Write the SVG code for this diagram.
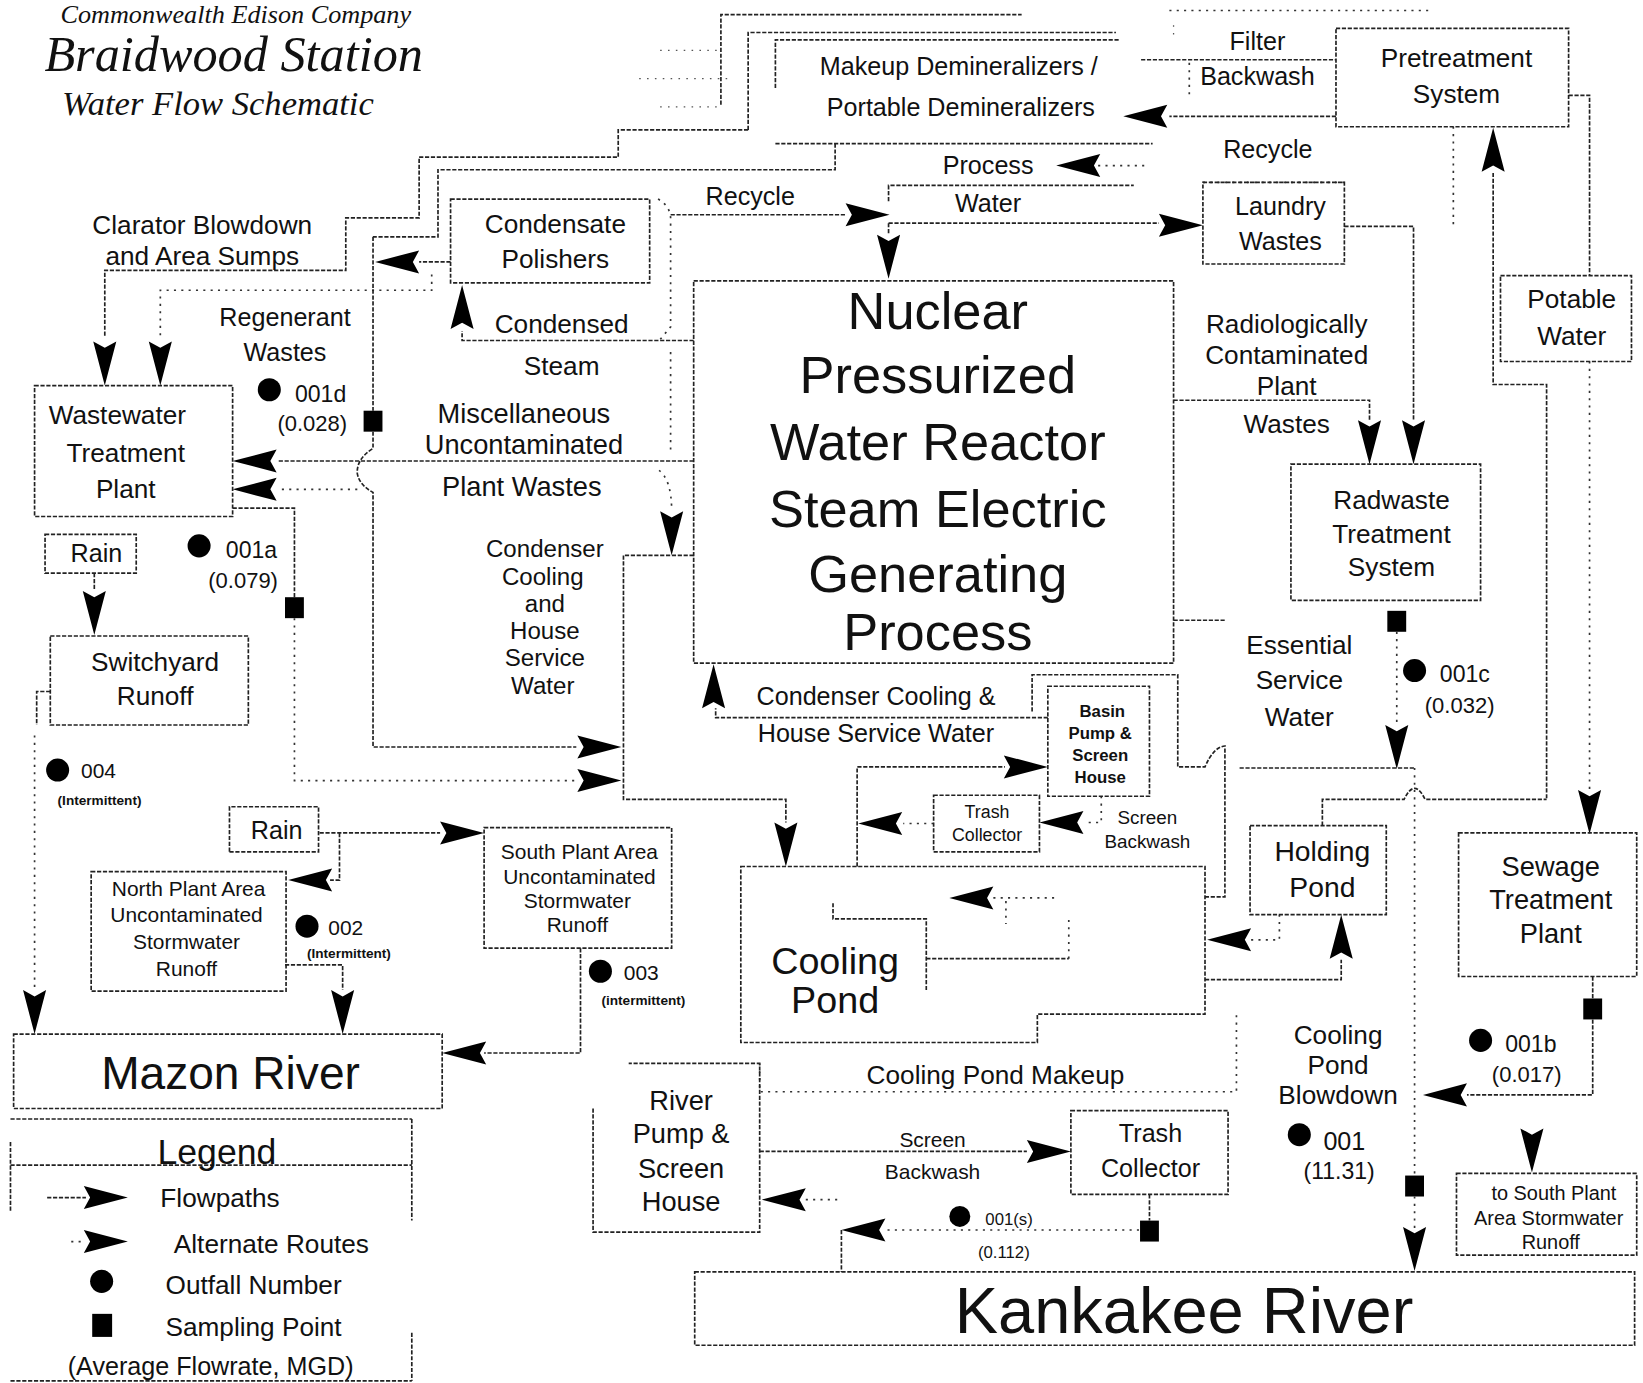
<svg xmlns="http://www.w3.org/2000/svg" width="1643" height="1383" viewBox="0 0 1643 1383">
<style>
.b{fill:none;stroke:#222;stroke-width:1.6;stroke-dasharray:4 1.6}
.c{fill:none;stroke:#222;stroke-width:1.6;stroke-dasharray:4 1.6}
.d{fill:none;stroke:#333;stroke-width:1.6;stroke-dasharray:2 5}
.f{fill:none;stroke:#555;stroke-width:1.2;stroke-dasharray:1.5 6}
.t{font-family:"Liberation Sans",Arial,sans-serif;fill:#111;text-anchor:middle}
.ti{font-family:"Liberation Serif","Times New Roman",serif;font-style:italic;fill:#111}
.k{fill:#000}
</style>
<defs>
<path id="ah" d="M0,0 L-42,-11 L-36,0 L-42,11 Z" fill="#000"/>
<rect id="sq" x="-9" y="-10" width="18" height="20" fill="#000"/>
</defs>
<rect width="1643" height="1383" fill="#fff"/>
<g transform="scale(1.04783,1.04773)">

<g id="title">
<text class="ti" x="225" y="22" font-size="25" text-anchor="middle">Commonwealth Edison Company</text>
<text class="ti" x="223" y="68" font-size="48" text-anchor="middle">Braidwood Station</text>
<text class="ti" x="208" y="110" font-size="33" text-anchor="middle">Water Flow Schematic</text>
</g>

<g id="faint">
<path class="f" d="M630,48 H690 M610,75 H700 M630,102 H690 M1120,24 V34"/>
</g>

<g id="connectors">
<path class="c" d="M688,100 V14 H975"/>
<path class="c" d="M714,124 V31 H1065"/>
<path class="d" d="M1116,10 H1365"/>
<path class="c" d="M714,124 H590 V150 H400 V208 H330 V258 H100 V322"/>
<use href="#ah" transform="translate(100,368) rotate(90)"/>
<path class="d" d="M412,262 V277 H153 V322"/>
<use href="#ah" transform="translate(153,368) rotate(90)"/>
<path class="c" d="M797,137 V162 H418 V226 H356"/>
<path class="c" d="M430,250 H400"/>
<use href="#ah" transform="translate(358,250) rotate(180)"/>
<path class="c" d="M356,226 V392"/>
<use href="#sq" transform="translate(356,402)"/>
<path class="c" d="M356,412 V428 Q340,438 341,452 Q343,463 356,470 V713 H550"/>
<use href="#ah" transform="translate(593,713)"/>
<path class="d" d="M341,467 H265"/>
<use href="#ah" transform="translate(222,467) rotate(180)"/>
<path class="c" d="M662,440 H265"/>
<use href="#ah" transform="translate(222,440) rotate(180)"/>
<path class="c" d="M222,485 H281 V570"/>
<use href="#sq" transform="translate(281,580)"/>
<path class="d" d="M281,590 V745 H550"/>
<use href="#ah" transform="translate(593,745)"/>
<path class="c" d="M662,325 H441 V316"/>
<use href="#ah" transform="translate(441,272) rotate(-90)"/>
<path class="d" d="M628,190 Q641,197 640,212 V312 L630,324"/>
<path class="d" d="M640,336 V432"/>
<path class="c" d="M640,205 H808"/>
<use href="#ah" transform="translate(849,205)"/>
<path class="d" d="M629,449 Q641,458 641,488"/>
<use href="#ah" transform="translate(641,530) rotate(90)"/>
<path class="c" d="M662,530 H595 V763 H750 V785"/>
<use href="#ah" transform="translate(750,827) rotate(90)"/>
<path class="c" d="M848,192 V177 H1082"/>
<path class="c" d="M848,213 H1106"/>
<use href="#ah" transform="translate(1148,215)"/>
<path class="c" d="M848,213 V224"/>
<use href="#ah" transform="translate(848,266) rotate(90)"/>
<path class="d" d="M1048,158 H1092"/>
<use href="#ah" transform="translate(1008,158) rotate(180)"/>
<path class="d" d="M1148,174 H1285"/>
<path class="c" d="M1089,57 H1275"/>
<path class="d" d="M1135,60 V92"/>
<path class="c" d="M1275,111 H1116"/>
<use href="#ah" transform="translate(1072,111) rotate(180)"/>
<path class="d" d="M1387,121 V219"/>
<path class="c" d="M1497,91 H1517 V263"/>
<path class="d" d="M1517,345 V755"/>
<use href="#ah" transform="translate(1517,796) rotate(90)"/>
<path class="c" d="M1476,762 V367 H1425 V165"/>
<use href="#ah" transform="translate(1425,122) rotate(-90)"/>
<path class="c" d="M1283,216 H1349 V402"/>
<use href="#ah" transform="translate(1349,443) rotate(90)"/>
<path class="c" d="M1120,382 H1307 V402"/>
<use href="#ah" transform="translate(1307,443) rotate(90)"/>
<use href="#sq" transform="translate(1333,593)"/>
<path class="d" d="M1333,603 V690"/>
<use href="#ah" transform="translate(1333,734) rotate(90)"/>
<path class="c" d="M1120,592 H1170"/>
<path class="c" d="M1183,733 H1350"/>
<path class="c" d="M985,679 V644 H1124 V732 H1150 Q1158,713 1169,712 V856 H1150"/>
<path class="d" d="M1350,733 V1122"/>
<use href="#sq" transform="translate(1350,1132)"/>
<path class="d" d="M1350,1142 V1172"/>
<use href="#ah" transform="translate(1350,1213) rotate(90)"/>
<path class="c" d="M1262,788 V763 H1340 Q1350,742 1360,763 H1476"/>
<path class="d" d="M1221,873 V897 H1194"/>
<use href="#ah" transform="translate(1152,897) rotate(180)"/>
<path class="c" d="M1150,935 H1280 V916"/>
<use href="#ah" transform="translate(1280,873) rotate(-90)"/>
<path class="d" d="M725,1015 V1042 H1180 V968"/>
<path class="c" d="M1000,685 H683 V676"/>
<use href="#ah" transform="translate(681,634) rotate(-90)"/>
<path class="c" d="M818,827 V732 H959"/>
<use href="#ah" transform="translate(1000,732)"/>
<path class="d" d="M891,786 H862"/>
<use href="#ah" transform="translate(819,786) rotate(180)"/>
<path class="d" d="M1051,760 V785 H1035"/>
<use href="#ah" transform="translate(992,785) rotate(180)"/>
<path class="d" d="M948,857 H1010 M960,860 V882"/>
<use href="#ah" transform="translate(906,857) rotate(180)"/>
<path class="c" d="M795,862 V877 H884 V945"/>
<path class="c" d="M884,915 H1020"/>
<path class="d" d="M1020,915 V877"/>
<path class="c" d="M725,1099 H980"/>
<use href="#ah" transform="translate(1022,1099)"/>
<path class="d" d="M769,1145 H800"/>
<use href="#ah" transform="translate(727,1145) rotate(180)"/>
<path class="c" d="M1097,1140 V1165"/>
<use href="#sq" transform="translate(1097,1175)"/>
<path class="d" d="M1087,1174 H846"/>
<use href="#ah" transform="translate(803,1174) rotate(180)"/>
<path class="c" d="M803,1174 V1214"/>
<path class="c" d="M1520,932 V953"/>
<use href="#sq" transform="translate(1520,963)"/>
<path class="c" d="M1520,973 V1045 H1400"/>
<use href="#ah" transform="translate(1358,1045) rotate(180)"/>
<use href="#ah" transform="translate(1462,1119) rotate(90)"/>
<path class="c" d="M90,547 V563"/>
<use href="#ah" transform="translate(90,606) rotate(90)"/>
<path class="c" d="M48,660 H35 V692"/>
<path class="d" d="M33,702 V944"/>
<use href="#ah" transform="translate(33,987) rotate(90)"/>
<path class="c" d="M305,795 H420"/>
<use href="#ah" transform="translate(462,795)"/>
<path class="c" d="M324,795 V840 H315"/>
<use href="#ah" transform="translate(275,840) rotate(180)"/>
<path class="c" d="M272,921 H327 V945"/>
<use href="#ah" transform="translate(327,987) rotate(90)"/>
<path class="c" d="M554,905 V1005 H462"/>
<use href="#ah" transform="translate(422,1005) rotate(180)"/>
</g>

<g id="outfalls">
<circle cx="257" cy="372" r="11" class="k"/>
<text class="t" x="306" y="384" font-size="22">001d</text>
<text class="t" x="298" y="411" font-size="21">(0.028)</text>
<circle cx="190" cy="521" r="11" class="k"/>
<text class="t" x="240" y="533" font-size="22">001a</text>
<text class="t" x="232" y="561" font-size="21">(0.079)</text>
<circle cx="55" cy="735" r="11" class="k"/>
<text class="t" x="94" y="743" font-size="20">004</text>
<text class="t" x="95" y="768" font-size="13" font-weight="bold">(Intermittent)</text>
<circle cx="293" cy="884" r="11" class="k"/>
<text class="t" x="330" y="892" font-size="20">002</text>
<text class="t" x="333" y="914" font-size="13" font-weight="bold">(Intermittent)</text>
<circle cx="573" cy="927" r="11" class="k"/>
<text class="t" x="612" y="935" font-size="20">003</text>
<text class="t" x="614" y="959" font-size="13" font-weight="bold">(intermittent)</text>
<circle cx="1350" cy="640" r="11" class="k"/>
<text class="t" x="1398" y="651" font-size="22">001c</text>
<text class="t" x="1393" y="681" font-size="21">(0.032)</text>
<circle cx="1413" cy="993" r="11" class="k"/>
<text class="t" x="1461" y="1004" font-size="22">001b</text>
<text class="t" x="1457" y="1033" font-size="21">(0.017)</text>
<circle cx="1240" cy="1083" r="11" class="k"/>
<text class="t" x="1283" y="1098" font-size="24">001</text>
<text class="t" x="1278" y="1125" font-size="22">(11.31)</text>
<circle cx="916" cy="1161" r="10" class="k"/>
<text class="t" x="963" y="1169" font-size="16">001(s)</text>
<text class="t" x="958" y="1201" font-size="16">(0.112)</text>
</g>

<g id="makeup-demineralizers">
<path class="b" d="M740,84 V38 H1069 M740,137 H1100"/>
<text class="t" x="915" y="72" font-size="24">Makeup Demineralizers /</text>
<text class="t" x="917" y="111" font-size="24">Portable Demineralizers</text>
</g>
<g id="filter-backwash">
<text class="t" x="1200" y="48" font-size="24">Filter</text>
<text class="t" x="1200" y="81" font-size="24">Backwash</text>
</g>
<g id="pretreatment">
<rect class="b" x="1275" y="27" width="222" height="94"/>
<text class="t" x="1390" y="64" font-size="25">Pretreatment</text>
<text class="t" x="1390" y="98" font-size="25">System</text>
</g>
<g id="recycle-labels">
<text class="t" x="1210" y="151" font-size="24">Recycle</text>
<text class="t" x="716" y="196" font-size="24">Recycle</text>
</g>
<g id="process-water">
<text class="t" x="943" y="166" font-size="24">Process</text>
<text class="t" x="943" y="202" font-size="24">Water</text>
</g>
<g id="laundry-wastes">
<rect class="b" x="1148" y="174" width="135" height="78"/>
<text class="t" x="1222" y="205" font-size="24">Laundry</text>
<text class="t" x="1222" y="239" font-size="24">Wastes</text>
</g>
<g id="potable-water">
<rect class="b" x="1432" y="263" width="125" height="82"/>
<text class="t" x="1500" y="294" font-size="25">Potable</text>
<text class="t" x="1500" y="329" font-size="25">Water</text>
</g>
<g id="condensate-polishers">
<rect class="b" x="430" y="190" width="190" height="80"/>
<text class="t" x="530" y="222" font-size="25">Condensate</text>
<text class="t" x="530" y="256" font-size="25">Polishers</text>
</g>
<g id="clarator">
<text class="t" x="193" y="223" font-size="25">Clarator Blowdown</text>
<text class="t" x="193" y="253" font-size="25">and Area Sumps</text>
</g>
<g id="regenerant">
<text class="t" x="272" y="311" font-size="24">Regenerant</text>
<text class="t" x="272" y="345" font-size="24">Wastes</text>
</g>
<g id="condensed-steam">
<text class="t" x="536" y="318" font-size="25">Condensed</text>
<text class="t" x="536" y="358" font-size="25">Steam</text>
</g>
<g id="misc-wastes">
<text class="t" x="500" y="404" font-size="26">Miscellaneous</text>
<text class="t" x="500" y="433" font-size="26">Uncontaminated</text>
<text class="t" x="498" y="473" font-size="26">Plant Wastes</text>
</g>
<g id="wastewater-treatment">
<rect class="b" x="33" y="368" width="189" height="125"/>
<text class="t" x="112" y="405" font-size="25">Wastewater</text>
<text class="t" x="120" y="441" font-size="25">Treatment</text>
<text class="t" x="120" y="475" font-size="25">Plant</text>
</g>
<g id="rain-1">
<rect class="b" x="43" y="510" width="87" height="37"/>
<text class="t" x="92" y="536" font-size="24">Rain</text>
</g>
<g id="switchyard-runoff">
<rect class="b" x="48" y="607" width="189" height="85"/>
<text class="t" x="148" y="640" font-size="25">Switchyard</text>
<text class="t" x="148" y="673" font-size="25">Runoff</text>
</g>
<g id="condenser-cooling">
<text class="t" x="520" y="532" font-size="23">Condenser</text>
<text class="t" x="518" y="558" font-size="23">Cooling</text>
<text class="t" x="520" y="584" font-size="23">and</text>
<text class="t" x="520" y="610" font-size="23">House</text>
<text class="t" x="520" y="636" font-size="23">Service</text>
<text class="t" x="518" y="662" font-size="23">Water</text>
</g>
<g id="nuclear">
<rect class="b" x="662" y="268" width="458" height="365"/>
<text class="t" x="895" y="314" font-size="50">Nuclear</text>
<text class="t" x="895" y="375" font-size="50">Pressurized</text>
<text class="t" x="895" y="439" font-size="50">Water Reactor</text>
<text class="t" x="895" y="503" font-size="50">Steam Electric</text>
<text class="t" x="895" y="565" font-size="50">Generating</text>
<text class="t" x="895" y="620" font-size="50">Process</text>
</g>
<g id="rad-wastes">
<text class="t" x="1228" y="318" font-size="25">Radiologically</text>
<text class="t" x="1228" y="347" font-size="25">Contaminated</text>
<text class="t" x="1228" y="377" font-size="25">Plant</text>
<text class="t" x="1228" y="413" font-size="25">Wastes</text>
</g>
<g id="radwaste-treatment">
<rect class="b" x="1232" y="443" width="181" height="130"/>
<text class="t" x="1328" y="486" font-size="25">Radwaste</text>
<text class="t" x="1328" y="518" font-size="25">Treatment</text>
<text class="t" x="1328" y="550" font-size="25">System</text>
</g>
<g id="essential-service-water">
<text class="t" x="1240" y="624" font-size="25">Essential</text>
<text class="t" x="1240" y="658" font-size="25">Service</text>
<text class="t" x="1240" y="693" font-size="25">Water</text>
</g>
<g id="cc-hsw-label">
<text class="t" x="836" y="673" font-size="24">Condenser Cooling &amp;</text>
<text class="t" x="836" y="708" font-size="24">House Service Water</text>
</g>
<g id="basin-pump">
<rect class="b" x="1000" y="655" width="97" height="105"/>
<text class="t" x="1052" y="684" font-size="16" font-weight="bold">Basin</text>
<text class="t" x="1050" y="705" font-size="16" font-weight="bold">Pump &amp;</text>
<text class="t" x="1050" y="726" font-size="16" font-weight="bold">Screen</text>
<text class="t" x="1050" y="747" font-size="16" font-weight="bold">House</text>
</g>
<g id="trash-collector-1">
<rect class="b" x="891" y="759" width="101" height="54"/>
<text class="t" x="942" y="781" font-size="17">Trash</text>
<text class="t" x="942" y="803" font-size="17">Collector</text>
</g>
<g id="screen-backwash-1">
<text class="t" x="1095" y="786" font-size="18">Screen</text>
<text class="t" x="1095" y="809" font-size="18">Backwash</text>
</g>
<g id="rain-2">
<path class="b" d="M219,813 V770 H304 V813 H219"/>
<text class="t" x="264" y="801" font-size="24">Rain</text>
</g>
<g id="north-plant">
<rect class="b" x="87" y="832" width="186" height="114"/>
<text class="t" x="180" y="855" font-size="20">North Plant Area</text>
<text class="t" x="178" y="880" font-size="20">Uncontaminated</text>
<text class="t" x="178" y="906" font-size="20">Stormwater</text>
<text class="t" x="178" y="932" font-size="20">Runoff</text>
</g>
<g id="south-plant">
<rect class="b" x="462" y="790" width="179" height="115"/>
<text class="t" x="553" y="820" font-size="20">South Plant Area</text>
<text class="t" x="553" y="844" font-size="20">Uncontaminated</text>
<text class="t" x="551" y="867" font-size="20">Stormwater</text>
<text class="t" x="551" y="890" font-size="20">Runoff</text>
</g>
<g id="holding-pond">
<rect class="b" x="1193" y="788" width="130" height="85"/>
<text class="t" x="1262" y="822" font-size="27">Holding</text>
<text class="t" x="1262" y="856" font-size="27">Pond</text>
</g>
<g id="sewage-treatment">
<rect class="b" x="1392" y="795" width="170" height="137"/>
<text class="t" x="1480" y="836" font-size="26">Sewage</text>
<text class="t" x="1480" y="868" font-size="26">Treatment</text>
<text class="t" x="1480" y="900" font-size="26">Plant</text>
</g>
<g id="cooling-pond">
<path class="b" d="M707,827 H1150 V968 H990 V995 H707 Z"/>
<text class="t" x="797" y="930" font-size="36">Cooling</text>
<text class="t" x="797" y="967" font-size="36">Pond</text>
</g>
<g id="mazon-river">
<rect class="b" x="13" y="987" width="409" height="71"/>
<text class="t" x="220" y="1039" font-size="44">Mazon River</text>
</g>
<g id="cooling-pond-makeup">
<text class="t" x="950" y="1035" font-size="25">Cooling Pond Makeup</text>
</g>
<g id="river-pump">
<path class="b" d="M566,1058 V1176 H725 V1015 H600"/>
<text class="t" x="650" y="1059" font-size="26">River</text>
<text class="t" x="650" y="1091" font-size="26">Pump &amp;</text>
<text class="t" x="650" y="1124" font-size="26">Screen</text>
<text class="t" x="650" y="1156" font-size="26">House</text>
</g>
<g id="screen-backwash-2">
<text class="t" x="890" y="1095" font-size="20">Screen</text>
<text class="t" x="890" y="1125" font-size="20">Backwash</text>
</g>
<g id="trash-collector-2">
<rect class="b" x="1022" y="1060" width="150" height="80"/>
<text class="t" x="1098" y="1090" font-size="24">Trash</text>
<text class="t" x="1098" y="1123" font-size="24">Collector</text>
</g>
<g id="cooling-pond-blowdown">
<text class="t" x="1277" y="996" font-size="25">Cooling</text>
<text class="t" x="1277" y="1025" font-size="25">Pond</text>
<text class="t" x="1277" y="1054" font-size="25">Blowdown</text>
</g>
<g id="to-south-plant">
<rect class="b" x="1390" y="1120" width="172" height="78"/>
<text class="t" x="1483" y="1145" font-size="19">to South Plant</text>
<text class="t" x="1478" y="1169" font-size="19">Area Stormwater</text>
<text class="t" x="1480" y="1192" font-size="19">Runoff</text>
</g>
<g id="kankakee-river">
<rect class="b" x="663" y="1214" width="897" height="70"/>
<text class="t" x="1130" y="1272" font-size="62">Kankakee River</text>
</g>
<g id="legend">
<path class="b" d="M10,1068 H393 M10,1112 H393 M10,1090 V1156 M393,1068 V1165 M393,1272 V1318 M10,1318 H393"/>
<text class="t" x="207" y="1111" font-size="34">Legend</text>
<path class="c" d="M45,1143 H82"/>
<use href="#ah" transform="translate(122,1143)"/>
<text class="t" x="210" y="1152" font-size="25">Flowpaths</text>
<path class="d" d="M68,1185 H82"/>
<use href="#ah" transform="translate(122,1185)"/>
<text class="t" x="259" y="1196" font-size="25">Alternate Routes</text>
<circle cx="97" cy="1223" r="11" class="k"/>
<text class="t" x="242" y="1235" font-size="25">Outfall Number</text>
<rect x="88" y="1254" width="19" height="22" class="k"/>
<text class="t" x="242" y="1275" font-size="25">Sampling Point</text>
<text class="t" x="201" y="1312" font-size="24">(Average Flowrate, MGD)</text>
</g>
</g>
</svg>
